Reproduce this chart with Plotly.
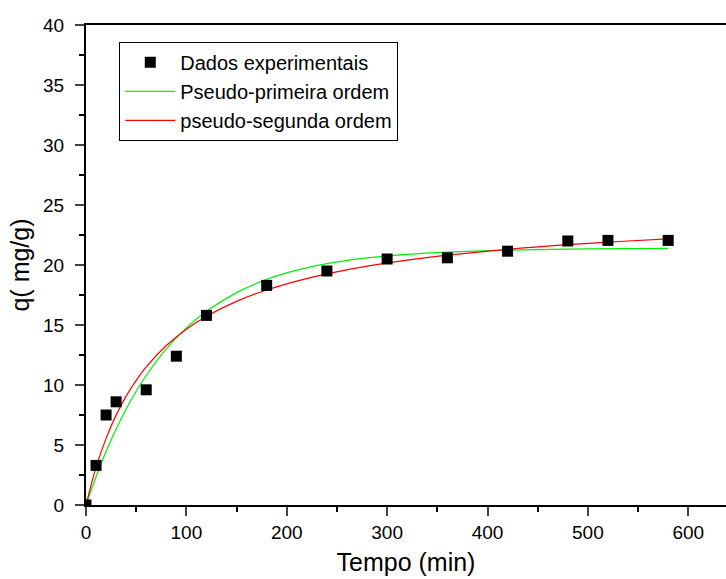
import plotly.graph_objects as go

# Experimental data
tempo = [0, 10, 20, 30, 60, 90, 120, 180, 240, 300, 360, 420, 480, 520, 580]
q_exp = [0.0, 3.3, 7.5, 8.6, 9.6, 12.4, 15.8, 18.3, 19.5, 20.5, 20.6, 21.15, 22.0, 22.05, 22.05]

# Model curves
t_fit = [0, 10, 20, 30, 40, 50, 60, 80, 100, 120, 150, 180, 210, 240, 280, 320, 360, 420, 480, 540, 580]
q_pfo = [0.0, 2.36, 4.46, 6.33, 8.00, 9.48, 10.79, 13.01, 14.76, 16.14, 17.70, 18.80, 19.57, 20.11,
         20.59, 20.89, 21.08, 21.24, 21.32, 21.36, 21.38]
q_pso = [0.0, 3.13, 5.55, 7.49, 9.07, 10.39, 11.51, 13.29, 14.65, 15.73, 16.97, 17.92, 18.66, 19.26,
         19.90, 20.40, 20.82, 21.31, 21.69, 22.00, 22.18]

x_ticks = [0, 100, 200, 300, 400, 500, 600]
y_ticks = [0, 5, 10, 15, 20, 25, 30, 35, 40]

FONT = "Liberation Sans, Arial, sans-serif"

fig = go.Figure()
fig.add_trace(go.Scatter(x=t_fit, y=q_pfo, mode="lines", name="Pseudo-primeira ordem", legendrank=2,
                         line=dict(color="#00f000", width=1.2, shape="spline")))
fig.add_trace(go.Scatter(x=t_fit, y=q_pso, mode="lines", name="pseudo-segunda ordem", legendrank=3,
                         line=dict(color="#ff0000", width=1.2, shape="spline")))
fig.add_trace(go.Scatter(x=tempo, y=q_exp, mode="markers", name="Dados experimentais", legendrank=1,
                         marker=dict(symbol="square", size=11, color="black")))

fig.update_layout(
    width=726, height=579,
    margin=dict(l=86, r=0, t=25, b=74),
    paper_bgcolor="white", plot_bgcolor="white",
    font=dict(family=FONT, color="black", size=19),
    showlegend=True,
    legend=dict(
        x=0.052, y=0.965, xanchor="left", yanchor="top",
        bordercolor="black", borderwidth=1, bgcolor="white",
        font=dict(size=20, family=FONT), traceorder="normal",
        itemwidth=50, tracegroupgap=0,
    ),
    xaxis=dict(
        range=[0, 637.6], tickvals=x_ticks, ticks="outside", ticklen=9, tickwidth=2,
        showline=True, linecolor="black", linewidth=2, mirror=True,
        showgrid=False, zeroline=False, ticklabelstandoff=0,
        minor=dict(dtick=50, tick0=0, ticks="outside", ticklen=5, tickwidth=2, tickcolor="black", showgrid=False),
        title=dict(text="Tempo (min)", font=dict(size=25, family=FONT), standoff=12),
        tickfont=dict(size=19),
    ),
    yaxis=dict(
        range=[0, 40], tickvals=y_ticks, ticks="outside", ticklen=9, tickwidth=2,
        showline=True, linecolor="black", linewidth=2, mirror=False,
        showgrid=False, zeroline=False, ticklabelstandoff=7,
        minor=dict(dtick=2.5, tick0=0, ticks="outside", ticklen=5, tickwidth=2, tickcolor="black", showgrid=False),
        title=dict(text="q( mg/g)", font=dict(size=25, family=FONT), standoff=6),
        tickfont=dict(size=19),
    ),
)

fig.write_html("out.html")
